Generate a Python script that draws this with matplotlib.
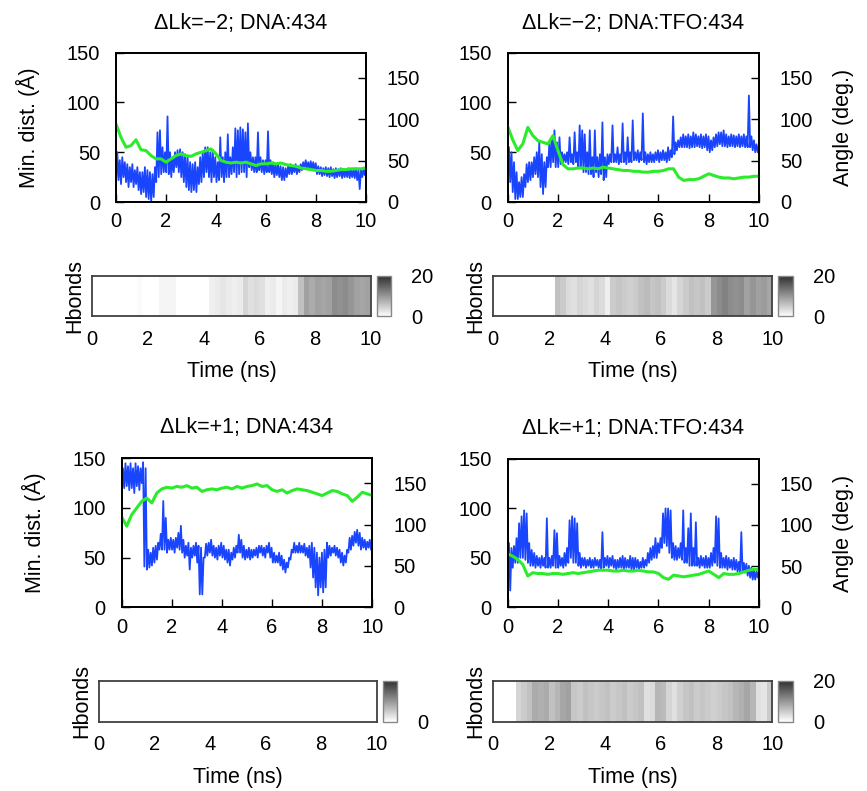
import numpy as np
import matplotlib
matplotlib.use("Agg")
import matplotlib.pyplot as plt
from matplotlib.colors import LinearSegmentedColormap

# --- data ----------------------------------------------------------------
# blue trace (Min. dist., left axis): low / high of the trace in each 0.1 ns bin
P1_BLUE_LO = [20, 22, 18, 25, 20, 15, 20, 15, 18, 12,
              8, 10, 5, 3, 0, 5, 20, 25, 28, 30,
              30, 28, 25, 30, 35, 30, 25, 20, 15, 12,
              10, 12, 10, 18, 20, 25, 30, 25, 20, 25,
              20, 22, 25, 20, 25, 25, 28, 30, 25, 28,
              30, 30, 25, 35, 32, 30, 30, 32, 30, 28,
              30, 30, 28, 25, 27, 25, 22, 22, 25, 28,
              28, 30, 28, 30, 32, 34, 34, 33, 32, 32,
              28, 28, 26, 27, 26, 25, 26, 24, 25, 26,
              24, 25, 25, 24, 25, 24, 22, 13, 25, 27]
P1_BLUE_HI = [50, 42, 45, 40, 38, 35, 38, 32, 35, 30,
              30, 35, 32, 30, 28, 35, 70, 72, 55, 50,
              86, 50, 45, 50, 52, 53, 50, 48, 45, 40,
              38, 40, 35, 45, 50, 55, 55, 50, 52, 45,
              40, 65, 45, 50, 68, 45, 55, 74, 72, 75,
              73, 70, 79, 50, 45, 45, 70, 45, 42, 42,
              71, 42, 40, 38, 38, 36, 35, 34, 36, 38,
              36, 38, 36, 38, 40, 42, 40, 41, 40, 39,
              36, 35, 34, 35, 34, 35, 33, 34, 33, 34,
              33, 33, 34, 32, 33, 34, 32, 33, 33, 35]

P2_BLUE_LO = [30, 20, 10, 3, 3, 5, 5, 15, 20, 22,
              25, 28, 25, 15, 8, 15, 35, 35, 40, 35,
              35, 38, 40, 40, 38, 40, 38, 40, 35, 35,
              30, 30, 28, 28, 25, 30, 25, 28, 22, 25,
              38, 40, 40, 40, 38, 40, 40, 38, 40, 40,
              42, 42, 40, 42, 40, 38, 40, 40, 40, 42,
              40, 42, 42, 40, 42, 45, 48, 52, 55, 55,
              55, 55, 54, 55, 55, 56, 55, 54, 55, 52,
              50, 52, 55, 56, 58, 56, 56, 55, 56, 56,
              55, 56, 55, 56, 55, 55, 55, 52, 50, 50]
P2_BLUE_HI = [55, 50, 40, 30, 20, 25, 28, 38, 40, 40,
              45, 50, 60, 48, 40, 45, 60, 65, 72, 60,
              65, 50, 48, 50, 65, 48, 70, 50, 77, 72,
              68, 50, 72, 45, 72, 45, 48, 80, 45, 48,
              48, 77, 48, 55, 48, 79, 50, 65, 50, 82,
              50, 52, 50, 89, 50, 48, 50, 48, 50, 52,
              50, 52, 50, 55, 52, 86, 60, 62, 65, 68,
              66, 68, 66, 70, 68, 66, 68, 66, 68, 66,
              62, 65, 68, 70, 70, 72, 68, 66, 68, 67,
              66, 68, 66, 68, 66, 107, 66, 62, 58, 58]

P3_BLUE_LO = [112, 120, 122, 118, 120, 115, 122, 118, 125, 41,
              38, 40, 42, 45, 48, 58, 58, 58, 55, 58,
              58, 55, 60, 58, 55, 50, 52, 38, 50, 52,
              45, 13, 13, 50, 52, 55, 52, 50, 48, 52,
              50, 48, 45, 42, 48, 50, 55, 55, 50, 48,
              50, 48, 50, 52, 50, 55, 52, 50, 55, 50,
              45, 45, 45, 42, 38, 35, 40, 48, 55, 55,
              55, 55, 55, 52, 50, 40, 30, 20, 12, 20,
              15, 20, 50, 52, 55, 52, 50, 45, 42, 45,
              55, 58, 62, 65, 62, 58, 60, 58, 60, 58]
P3_BLUE_HI = [140, 145, 142, 145, 140, 145, 142, 140, 146, 140,
              58, 55, 60, 62, 65, 74, 107, 90, 68, 70,
              68, 70, 75, 82, 68, 62, 65, 60, 62, 65,
              62, 60, 50, 64, 65, 68, 62, 60, 62, 65,
              62, 58, 58, 55, 60, 62, 73, 68, 62, 58,
              60, 58, 58, 60, 62, 62, 60, 62, 65, 60,
              55, 52, 55, 52, 48, 45, 50, 58, 65, 62,
              65, 62, 64, 60, 62, 65, 60, 55, 50, 55,
              58, 65, 62, 60, 62, 60, 58, 55, 52, 58,
              70, 72, 76, 78, 75, 70, 68, 66, 68, 65]

P4_BLUE_LO = [40, 17, 40, 45, 45, 50, 50, 48, 45, 42,
              42, 40, 42, 40, 42, 40, 40, 40, 42, 40,
              40, 42, 40, 42, 45, 50, 45, 45, 42, 40,
              42, 40, 42, 40, 40, 42, 40, 38, 40, 42,
              40, 42, 40, 38, 40, 40, 38, 40, 40, 38,
              38, 40, 38, 40, 40, 42, 45, 48, 50, 50,
              55, 60, 65, 62, 55, 50, 48, 48, 50, 48,
              45, 45, 42, 42, 42, 42, 40, 42, 40, 40,
              40, 42, 45, 42, 40, 40, 40, 38, 40, 38,
              38, 36, 35, 35, 35, 32, 30, 28, 28, 30]
P4_BLUE_HI = [65, 60, 62, 70, 85, 92, 98, 95, 65, 58,
              55, 52, 50, 52, 50, 90, 50, 52, 78, 75,
              52, 50, 55, 60, 88, 92, 90, 85, 55, 50,
              50, 48, 50, 48, 50, 48, 48, 76, 50, 52,
              50, 52, 48, 48, 50, 52, 50, 48, 52, 50,
              50, 48, 46, 50, 48, 55, 60, 62, 70, 65,
              70, 95, 100, 100, 98, 65, 62, 60, 65, 98,
              60, 80, 95, 60, 86, 50, 52, 50, 52, 50,
              55, 60, 92, 90, 55, 50, 52, 50, 48, 50,
              48, 46, 76, 45, 44, 42, 40, 38, 36, 38]

# green trace (Angle, right axis) every 0.2 ns
T_GREEN = np.arange(51) * 0.2
P1_GREEN = [94, 78, 66, 68, 75, 63, 62, 56, 52, 52,
            48, 52, 56, 58, 56, 55, 58, 60, 62, 64,
            58, 50, 48, 47, 48, 47, 48, 46, 44, 46,
            46, 47, 46, 47, 45, 44, 43, 41, 40, 39,
            38, 38, 37, 37, 38, 39, 39, 40, 40, 40, 41]
P2_GREEN = [91, 75, 62, 70, 90, 80, 74, 72, 70, 80,
            62, 45, 40, 40, 41, 41, 40, 41, 40, 42,
            41, 40, 39, 38, 38, 37, 37, 36, 36, 37,
            37, 38, 40, 40, 30, 26, 27, 27, 28, 31,
            34, 32, 30, 29, 29, 28, 29, 30, 30, 31, 31]
P3_GREEN = [109, 98, 112, 120, 128, 132, 126, 138, 143, 145,
            144, 146, 145, 147, 144, 145, 140, 142, 143, 142,
            144, 145, 143, 146, 144, 146, 147, 149, 146, 147,
            142, 140, 142, 138, 141, 143, 142, 141, 139, 137,
            135, 138, 141, 140, 137, 135, 128, 133, 139, 137, 135]
P4_GREEN = [65, 62, 58, 52, 38, 42, 41, 41, 40, 41,
            41, 40, 41, 42, 41, 42, 43, 44, 45, 45,
            45, 44, 44, 45, 44, 44, 45, 44, 43, 43,
            41, 36, 34, 39, 38, 37, 38, 39, 40, 42,
            44, 40, 36, 41, 40, 40, 41, 43, 45, 46, 46]

# Hbonds strips, one value per 0.2 ns cell
HB_EDGES = np.arange(51) * 0.2
P1_HB = [0, 0, 0, 0, 0, 0, 0, 0, 0.5, 0,
         0, 0, 1, 1, 1, 0, 0, 0, 0, 0,
         0, 1.5, 2, 2.5, 2, 1.5, 2, 4, 3, 3.5,
         3, 1.5, 2, 1, 2, 1.5, 2, 6, 9, 8,
         9, 8.5, 9, 11, 10.5, 11, 10, 9, 8.5, 9]
P2_HB = [0, 0, 0, 0, 0, 0, 0, 0, 0, 0,
         0, 6, 5, 3.5, 3, 4, 3.5, 3, 4, 3.5,
         1.5, 5, 5.5, 5, 4.5, 5, 6, 6.5, 5.5, 6,
         5, 3.5, 2.5, 4, 5, 6, 5.5, 6, 5, 10,
         11, 12, 11, 10.5, 11, 9, 10, 9, 9.5, 8.5]
P3_HB = [0] * 50
P4_HB = [0, 0, 0, 0, 4, 5, 6, 8, 7.5, 8,
         6, 7, 8.5, 9, 5.5, 5, 6, 5.5, 5, 5.5,
         6, 5, 5.5, 6, 5, 5.5, 6, 3, 3.5, 7,
         6.5, 4, 3, 4.5, 5.5, 6, 5, 5.5, 5, 4.5,
         5, 5.5, 6, 7, 7.5, 8.5, 7, 3, 2.5, 5]

TITLES = ["\u0394Lk=\u22122; DNA:434", "\u0394Lk=\u22122; DNA:TFO:434",
          "\u0394Lk=+1; DNA:434", "\u0394Lk=+1; DNA:TFO:434"]

BLUE = "#1a45ff"
GREEN = "#2bec2b"
TEXT_SIZE = 15.5
TICK_SIZE = 14.5

plt.rcParams['font.family'] = ['Liberation Sans', 'DejaVu Sans']
plt.rcParams['font.size'] = TICK_SIZE

W, H = 867, 791
fig = plt.figure(figsize=(W / 100, H / 100), dpi=100)

hb_cmap = LinearSegmentedColormap.from_list("hb", ["#ffffff", "#2e2e2e"])


def px_axes(x0, y0, x1, y1):
    return fig.add_axes([x0 / W, 1 - y1 / H, (x1 - x0) / W, (y1 - y0) / H])


def zigzag(lo, hi):
    y = np.column_stack([lo, hi]).ravel()
    x = np.linspace(0, 10, len(y))
    return x, y


def line_panel(box, title, lo, hi, green, left_label, right_label, tpad):
    ax = px_axes(*box)
    x, y = zigzag(lo, hi)
    ax.plot(x, y, color=BLUE, lw=1.3)
    ax.set_xlim(0, 10)
    ax.set_ylim(0, 150)
    ax.set_xticks(range(0, 11, 2))
    ax.set_yticks([0, 50, 100, 150])
    ax.tick_params(axis='both', direction='in', length=5.8, width=1,
                   top=False, right=False, labelsize=TICK_SIZE)
    ax.tick_params(axis='y', pad=11.5)
    ax.tick_params(axis='x', pad=7.5)
    ax.set_title(title, pad=tpad, fontsize=TEXT_SIZE)
    if left_label:
        ax.set_ylabel(left_label, labelpad=19, fontsize=TEXT_SIZE)

    ax2 = ax.twinx()
    ax2.plot(T_GREEN, green, color=GREEN, lw=2.2)
    ax2.set_ylim(0, 180)
    ax2.set_yticks([0, 50, 100, 150])
    ax2.tick_params(axis='y', direction='in', length=5.8, width=1, pad=15,
                    labelsize=TICK_SIZE)
    if right_label:
        ax2.set_ylabel(right_label, labelpad=14, fontsize=TEXT_SIZE)
    for a in (ax, ax2):
        for s in a.spines.values():
            s.set_linewidth(1.3)


def strip_panel(box, cbox, values, cticks):
    ax = px_axes(*box)
    mesh = ax.pcolormesh(HB_EDGES, [0, 1], np.array(values)[None, :],
                         cmap=hb_cmap, vmin=0, vmax=20)
    ax.set_xlim(0, 10)
    ax.set_ylim(0, 1)
    ax.set_yticks([])
    ax.set_xticks(range(0, 11, 2))
    ax.tick_params(axis='x', length=0, pad=9.6, labelsize=TICK_SIZE)
    ax.set_ylabel("Hbonds", labelpad=5, fontsize=TEXT_SIZE)
    ax.set_xlabel("Time (ns)", labelpad=9, fontsize=TEXT_SIZE)
    for s in ax.spines.values():
        s.set_linewidth(1.3)
        s.set_edgecolor("#404040")

    cax = px_axes(*cbox)
    cb = fig.colorbar(mesh, cax=cax, ticks=cticks)
    cax.tick_params(length=0, pad=14.5, labelsize=TICK_SIZE)
    cb.outline.set_edgecolor("#888888")
    cb.outline.set_linewidth(1)


line_panel((116, 52.7, 366, 202), TITLES[0], P1_BLUE_LO, P1_BLUE_HI, P1_GREEN,
           "Min. dist. (\u00c5)", None, 17)
line_panel((507.7, 52.7, 759, 202), TITLES[1], P2_BLUE_LO, P2_BLUE_HI, P2_GREEN,
           None, "Angle (deg.)", 17)
line_panel((121.7, 458.3, 372.3, 607.3), TITLES[2], P3_BLUE_LO, P3_BLUE_HI, P3_GREEN,
           "Min. dist. (\u00c5)", None, 18)
line_panel((507.7, 459, 759, 607.3), TITLES[3], P4_BLUE_LO, P4_BLUE_HI, P4_GREEN,
           None, "Angle (deg.)", 18)

strip_panel((92.3, 275.7, 370.7, 316.3), (377, 275.7, 391, 316.3), P1_HB, [0, 20])
strip_panel((493.3, 275.7, 772.3, 316.3), (778, 275.7, 792.7, 316.3), P2_HB, [0, 20])
strip_panel((98.7, 680.7, 376.7, 721.7), (383.3, 680.7, 397.3, 721.7), P3_HB, [0])
strip_panel((493.3, 680.7, 772.3, 721.7), (778, 680.7, 792.7, 721.7), P4_HB, [0, 20])

fig.savefig("out.png", dpi=100)
